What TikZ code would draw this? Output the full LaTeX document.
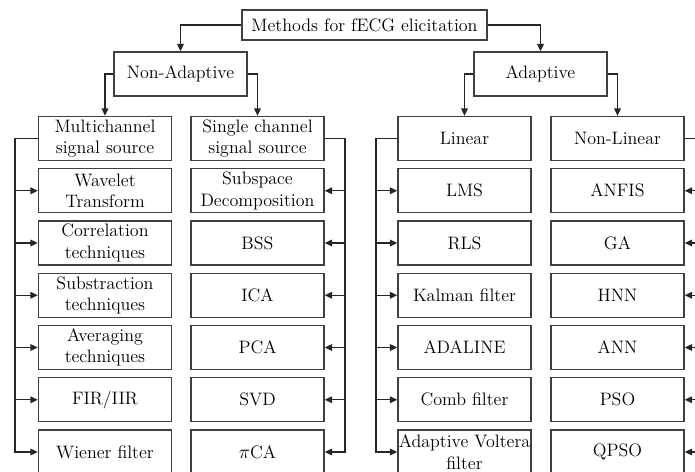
\documentclass[tikz,border=0pt]{standalone}
\usetikzlibrary{arrows.meta}
\begin{document}
\begin{tikzpicture}[x=0.75pt,y=-0.75pt,
  box/.style={draw=black!75, line width=1.1pt, inner xsep=0pt, inner ysep=0pt,
    text width=99.75pt, minimum height=33pt, align=center, text=black,
    font=\fontsize{13.5}{16}\selectfont},
  topbox/.style={box, text width=183.75pt, minimum height=22.5pt},
  arr/.style={draw=black!85, line width=0.9pt, -{Triangle[length=5.5pt,width=5pt]}},
  line/.style={draw=black!85, line width=0.9pt}]
\useasboundingbox[fill=white] (0,0) rectangle (695,471);
\coordinate (bA) at (15,0);
\coordinate (bB) at (345,0);
\coordinate (bC) at (376,0);
\coordinate (bD) at (700,0);
\node[topbox] (m) at (364.5,25) {Methods for fECG elicitation};
\node[box] (na) at (180.5,74) {Non-Adaptive};
\node[box] (ad) at (540.5,74) {Adaptive};
\foreach \t [count=\i] in {{Multichannel\\signal source},{Wavelet\\Transform},{Correlation\\techniques},{Substraction\\techniques},{Averaging\\techniques},{FIR/IIR},{Wiener filter}}
  \node[box] (a\i) at (105,{138.5+52.25*(\i-1)}) {\t};
\foreach \t [count=\i] in {{Single channel\\signal source},{Subspace\\Decomposition},{BSS},{ICA},{PCA},{SVD},{$\pi$CA}}
  \node[box] (b\i) at (257.5,{138.5+52.25*(\i-1)}) {\t};
\foreach \t [count=\i] in {{Linear},{LMS},{RLS},{Kalman filter},{ADALINE},{Comb filter},{Adaptive Voltera\\filter}}
  \node[box] (c\i) at (464.5,{138.5+52.25*(\i-1)}) {\t};
\foreach \t [count=\i] in {{Non-Linear},{ANFIS},{GA},{HNN},{ANN},{PSO},{QPSO}}
  \node[box] (d\i) at (617.5,{138.5+52.25*(\i-1)}) {\t};
\draw[arr] (m.west) -| (na.north);
\draw[arr] (m.east) -| (ad.north);
\draw[arr] (na.west) -| (a1.north);
\draw[arr] (na.east) -| (b1.north);
\draw[arr] (ad.west) -| (c1.north);
\draw[arr] (ad.east) -| (d1.north);
\draw[arr] (a1.west) -- (a1.west -| bA) |- (a7.west);
\draw[arr] (b1.east) -- (b1.east -| bB) |- (b7.east);
\draw[arr] (c1.west) -- (c1.west -| bC) |- (c7.west);
\draw[arr] (d1.east) -- (d1.east -| bD) |- (d7.east);
\foreach \i in {2,...,6} {
  \draw[arr] (a\i.west -| bA) -- (a\i.west);
  \draw[arr] (b\i.east -| bB) -- (b\i.east);
  \draw[arr] (c\i.west -| bC) -- (c\i.west);
  \draw[arr] (d\i.east -| bD) -- (d\i.east);
}
\end{tikzpicture}
\end{document}
